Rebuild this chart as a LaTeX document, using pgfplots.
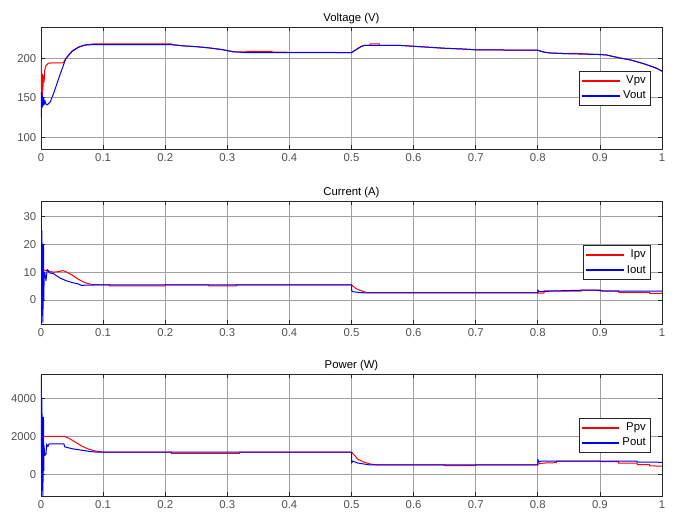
\documentclass[border=0pt]{standalone}
\usepackage{pgfplots}
\pgfplotsset{compat=1.18}
\usepackage{fontspec}
\setmainfont{Liberation Sans}
\definecolor{axc}{RGB}{38,38,38}
\definecolor{gridc}{RGB}{160,160,160}
\pgfplotsset{
  legend image code/.code={\draw[#1, line width=1pt] (0pt,0pt) -- (28pt,0pt);},
  mat/.style={
    scale only axis, width=465.75pt,
    xmin=0, xmax=1,
    xtick={0,0.1,...,1}, xticklabels={0,0.1,0.2,0.3,0.4,0.5,0.6,0.7,0.8,0.9,1},
    grid=major, major grid style={gridc, line width=0.6pt},
    axis line style={axc, line width=0.6pt},
    tick style={axc, line width=0.6pt}, tick align=inside, major tick length=3pt,
    ticklabel style={font=\fontsize{8.5}{10}\selectfont, text=axc!80},
    /pgf/number format/assume math mode=true,
    title style={font=\fontsize{8.5}{10}\selectfont, text=black, yshift=-7.5pt},
    legend style={font=\fontsize{8.5}{10}\selectfont, draw=axc, line width=0.6pt, anchor=north east, inner sep=1.5pt, legend cell align=right},
    every axis plot/.append style={line width=0.75pt, line join=round},
    clip=true,
  }
}
\begin{document}
\begin{tikzpicture}
\useasboundingbox (0,0) rectangle (506.25pt,386.25pt);
% Voltage
\begin{axis}[mat, at={(30.75pt,274.5pt)}, height=91.5pt, ymin=85, ymax=240, ytick={100,150,200},
  title={Voltage (V)}, legend style={at={(0.982,0.64)}}]
\addplot[red] coordinates {(0,190)(0.0005,195)(0.001,140)(0.0015,175)(0.002,150)(0.0025,180)(0.003,160)(0.004,178)(0.005,170)(0.006,185)(0.008,191)(0.012,194)(0.02,194.5)(0.036,194.5)(0.04,200)(0.05,209.5)(0.06,214.5)(0.07,217)(0.085,218.5)(0.21,218.5)(0.212,217.5)(0.23,216)(0.25,215)(0.27,213.5)(0.29,211.5)(0.3,210)(0.31,208.5)(0.33,208.5)(0.33,209)(0.37,209)(0.375,208)(0.5,207.5)(0.505,210)(0.515,215)(0.52,216.5)(0.53,216.5)(0.53,218.5)(0.545,218.5)(0.545,216.5)(0.58,216.5)(0.6,215.5)(0.62,214.5)(0.65,213)(0.68,212)(0.7,211)(0.8,210.5)(0.81,208)(0.82,207)(0.85,206)(0.85,206.5)(0.86,206.5)(0.9,205)(0.91,204.5)(0.93,201)(0.95,198)(0.97,193.5)(0.99,188)(1.0,184)};
\addplot[blue] coordinates {(0,125)(0.0005,157)(0.001,136)(0.0015,155)(0.002,138)(0.0025,152)(0.003,140)(0.004,150)(0.005,141)(0.006,147)(0.008,142)(0.01,141)(0.015,145)(0.02,155)(0.03,178)(0.04,200)(0.05,209)(0.06,214)(0.07,217)(0.08,217.5)(0.21,217.5)(0.23,216)(0.25,215)(0.27,213.5)(0.29,211.5)(0.3,210)(0.31,208.5)(0.33,207.5)(0.5,207.5)(0.505,210)(0.515,215)(0.52,216.5)(0.58,216.5)(0.6,215.5)(0.62,214.5)(0.65,213)(0.68,212)(0.7,211)(0.8,210.5)(0.81,208)(0.82,207)(0.85,206)(0.9,205)(0.91,204.5)(0.93,201)(0.95,198)(0.97,193.5)(0.99,188)(1.0,184)};
\legend{Vpv,Vout}
\end{axis}
% Current
\begin{axis}[mat, at={(30.75pt,143.25pt)}, height=92.25pt, ymin=-8.6, ymax=35.6, ytick={0,10,20,30},
  title={Current (A)}, legend style={at={(0.982,0.642)}}]
\addplot[red] coordinates {(0,11)(0.002,11)(0.005,10.8)(0.01,10.5)(0.02,10)(0.03,10.3)(0.035,10.6)(0.04,10.2)(0.05,9)(0.06,7.5)(0.07,6.3)(0.08,5.7)(0.09,5.5)(0.11,5.5)(0.11,5.1)(0.2,5.1)(0.2,5.5)(0.27,5.5)(0.27,5.1)(0.315,5.1)(0.315,5.5)(0.5,5.5)(0.505,4.5)(0.51,3.8)(0.52,3.0)(0.525,2.7)(0.8,2.7)(0.8,2.5)(0.81,2.5)(0.81,3.3)(0.83,3.3)(0.83,3.2)(0.87,3.2)(0.87,3.6)(0.9,3.6)(0.9,3.3)(0.93,3.3)(0.93,2.8)(0.98,2.8)(0.98,2.4)(1,2.4)};
\addplot[blue] coordinates {(0,35)(0.0005,25)(0.001,2)(0.0015,25)(0.002,5)(0.003,-8)(0.0035,3)(0.004,20)(0.0045,0)(0.005,8)(0.006,10)(0.008,7)(0.01,11)(0.012,10.5)(0.013,9.8)(0.02,9.5)(0.03,8)(0.04,7)(0.05,6.3)(0.06,5.8)(0.065,5.3)(0.1,5.5)(0.5,5.5)(0.5,3.5)(0.502,3)(0.51,2.8)(0.52,2.6)(0.8,2.6)(0.8,3.7)(0.802,3)(0.83,3.3)(0.88,3.6)(0.9,3.5)(0.905,3.2)(1,3.2)};
\legend{Ipv,Iout}
\end{axis}
% Power
\begin{axis}[mat, at={(30.75pt,14.25pt)}, height=91.5pt, ymin=-1126, ymax=5263, ytick={0,2000,4000},
  scaled y ticks=false, yticklabel style={/pgf/number format/1000 sep={}},
  title={Power (W)}, legend style={at={(0.982,0.64)}}]
\addplot[red] coordinates {(0,1800)(0.002,1900)(0.004,2000)(0.037,2000)(0.045,1900)(0.055,1700)(0.065,1500)(0.075,1350)(0.085,1250)(0.09,1220)(0.1,1170)(0.21,1170)(0.21,1100)(0.32,1100)(0.32,1170)(0.5,1170)(0.505,1000)(0.51,800)(0.52,650)(0.53,550)(0.54,510)(0.65,510)(0.65,460)(0.7,460)(0.7,510)(0.8,510)(0.8,550)(0.81,600)(0.83,620)(0.83,700)(0.9,700)(0.9,670)(0.93,670)(0.93,600)(0.96,600)(0.96,520)(0.98,520)(0.98,450)(1,440)};
\addplot[blue] coordinates {(0,5200)(0.0005,3000)(0.001,-100)(0.0015,4000)(0.002,300)(0.003,-1100)(0.0035,500)(0.004,3000)(0.0045,200)(0.005,1500)(0.006,1000)(0.008,1050)(0.009,1600)(0.011,1450)(0.013,1600)(0.02,1600)(0.037,1600)(0.038,1450)(0.05,1350)(0.06,1300)(0.07,1250)(0.08,1200)(0.09,1170)(0.5,1170)(0.5,600)(0.502,700)(0.51,600)(0.52,550)(0.53,500)(0.8,500)(0.8,800)(0.802,650)(0.805,700)(0.96,700)(0.96,650)(1,640)};
\legend{Ppv,Pout}
\end{axis}
\end{tikzpicture}
\end{document}
